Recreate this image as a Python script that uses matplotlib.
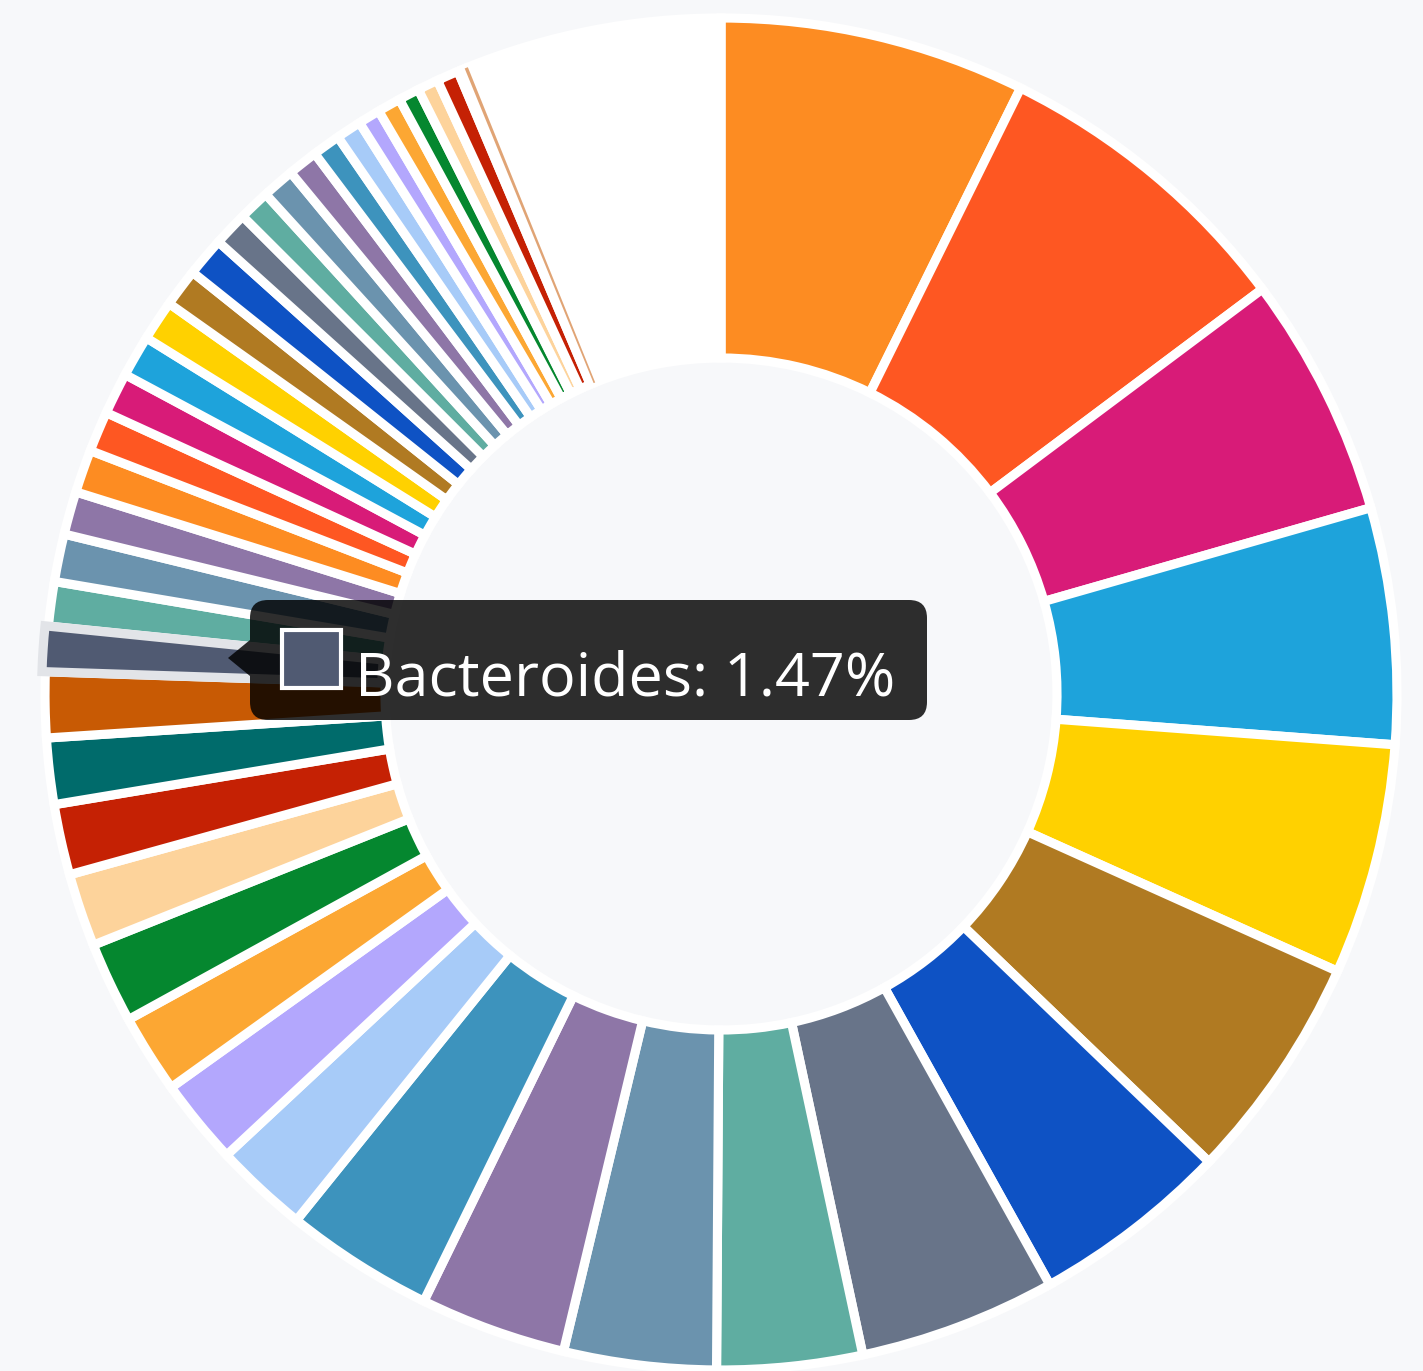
import matplotlib
matplotlib.use("Agg")
import matplotlib.pyplot as plt
from matplotlib.patches import FancyBboxPatch, Polygon, Rectangle

# slice sizes (% of the ring), clockwise from 12 o'clock
values = [7.31, 7.47, 5.78, 5.64, 5.53, 5.44, 4.75, 4.72, 3.47, 3.64,
          3.50, 3.56, 2.25, 2.06, 1.89, 1.94, 1.75, 1.69, 1.58, 1.56,
          1.08, 1.06, 1.14, 1.03, 1.03, 0.97, 1.00, 1.00, 0.97, 0.92,
          0.94, 0.83, 0.75, 0.78, 0.72, 0.67, 0.61, 0.53, 0.56, 0.50,
          0.50, 0.53, 0.17, 0.08, 6.11]

palette = ["#fd8c22", "#fe5722", "#d81b78", "#1ea3db", "#ffd100", "#b07a22",
           "#0e52c4", "#687489", "#5fada1", "#6b93ae", "#8e76a7", "#3d93bd",
           "#a7cbf8", "#b3a7fd", "#fca733", "#05872f", "#fdd39b", "#c52104",
           "#006b6b", "#c85a04", "#505a72", "#5fada1", "#6b93ae", "#8e76a7"]

names = [f"Genus {i + 1}" for i in range(len(values) - 1)] + ["Unassigned"]
names[20] = "Bacteroides"
colors = [palette[i % len(palette)] for i in range(len(values) - 1)] + ["#ffffff"]

hover = 20
hover_pct = 1.47
tiny = 43

W, H = 1423, 1371
cx, cy, R = 721, 694, 676
pad = 1.1

fig = plt.figure(figsize=(W / 100, H / 100), dpi=100)
fig.patch.set_facecolor("#f7f8fa")

side = 2 * R * pad
ax = fig.add_axes([(cx - R * pad) / W, (H - cy - R * pad) / H, side / W, side / H])
ax.set_facecolor("none")
explode = [0.005 if i == hover else 0 for i in range(len(values))]
wedges, _ = ax.pie(values, colors=colors, startangle=90, counterclock=False,
                   radius=1, explode=explode,
                   wedgeprops=dict(width=0.503, edgecolor="white", linewidth=6.6))
ax.set_xlim(-pad, pad)
ax.set_ylim(-pad, pad)
ax.set_aspect("equal")
ax.axis("off")

# hovered slice: pulled out with a grey outline
wedges[hover].set_edgecolor("#e2e4e8")
wedges[hover].set_zorder(3)
# hair-thin last slice only shows as a faint line
wedges[tiny].set_linewidth(0)
wedges[tiny].set_alpha(0.55)
wedges[tiny].set_zorder(3)

# tooltip
ov = fig.add_axes([0, 0, 1, 1])
ov.set_xlim(0, W)
ov.set_ylim(H, 0)
ov.axis("off")
ov.set_facecolor("none")

r = 18
ov.add_patch(FancyBboxPatch((250 + r, 600 + r), 677 - 2 * r, 120 - 2 * r,
                            boxstyle=f"round,pad={r}", fc="black", alpha=0.82, ec="none"))
ov.add_patch(Polygon([(228, 658), (250, 640), (250, 676)], closed=True,
                     fc="black", alpha=0.82, ec="none"))
ov.add_patch(Rectangle((282, 630), 59, 58, fc=colors[hover], ec="white", lw=3))
ov.text(355, 696, f"{names[hover]}: {hover_pct:.2f}%", color="white", fontsize=44,
        family=["Open Sans", "DejaVu Sans"], ha="left", va="baseline")

fig.savefig("out.png", dpi=100, facecolor=fig.get_facecolor())
